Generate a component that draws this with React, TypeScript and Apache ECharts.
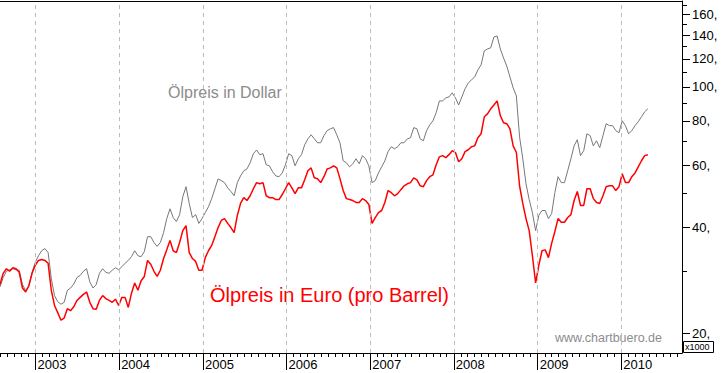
import React, { useEffect, useRef } from "react";
import * as echarts from "echarts";

// Oil prices sampled every 2 weeks starting 2002-07-30
const START_DATE = "2002-07-30";
const STEP_DAYS = 14;

const dollarPrices = [
  27.1, 28.8, 30.0, 30.3, 30.5, 30.3, 30.2, 27.5, 26.5, 27.3,
  29.8, 31.8, 33.2, 34.3, 34.8, 33.9, 28.6, 25.6, 24.6, 24.2,
  24.5, 26.5, 26.9, 27.6, 28.8, 29.2, 30.0, 30.5, 28.0, 26.9,
  27.5, 29.6, 30.5, 29.8, 29.6, 30.2, 30.7, 30.3, 30.9, 31.6,
  32.2, 33.0, 34.3, 33.2, 33.0, 34.1, 37.6, 37.6, 36.2, 35.3,
  36.2, 38.6, 42.3, 45.1, 42.6, 41.5, 43.4, 48.8, 52.1, 46.7,
  42.6, 43.4, 41.0, 42.3, 44.0, 45.7, 48.2, 51.4, 54.8, 54.2,
  53.5, 51.7, 50.5, 49.1, 53.5, 55.9, 57.8, 58.5, 60.9, 64.6,
  66.2, 64.2, 64.6, 60.1, 59.7, 57.4, 55.9, 55.6, 57.0, 60.1,
  64.6, 63.8, 59.7, 62.5, 64.2, 68.5, 71.2, 73.1, 71.2, 69.4,
  69.4, 72.7, 75.1, 76.0, 76.6, 73.1, 69.4, 61.7, 60.9, 59.3,
  60.5, 62.5, 60.5, 63.8, 62.5, 59.7, 53.5, 54.2, 57.0, 59.3,
  61.7, 65.5, 67.6, 66.7, 67.6, 69.4, 69.4, 71.2, 71.7, 76.6,
  76.0, 71.2, 70.3, 75.1, 78.0, 80.1, 84.4, 91.2, 91.2, 93.0,
  93.6, 96.1, 93.0, 88.8, 93.6, 98.7, 102.5, 104.6, 106.6, 111.6,
  115.3, 126.4, 128.0, 128.9, 138.4, 139.3, 128.0, 120.7, 114.5, 106.6,
  99.3, 94.2, 72.1, 62.5, 53.1, 47.9, 44.0, 39.1, 43.2, 44.6,
  44.6, 42.3, 43.7, 50.1, 55.6, 53.5, 53.5, 57.8, 62.5, 68.0,
  70.8, 63.8, 65.9, 73.6, 72.7, 68.0, 70.3, 67.2, 72.7, 78.6,
  77.6, 77.6, 75.1, 74.1, 80.1, 77.6, 73.6, 75.1, 77.6, 79.6,
  82.2, 84.9, 86.6,
];

const euroPrices = [
  27.5, 29.6, 30.5, 30.0, 30.7, 30.5, 29.8, 26.9, 26.2, 27.3,
  29.6, 31.2, 32.2, 32.4, 32.2, 31.6, 26.5, 24.0, 22.9, 21.8,
  22.1, 23.5, 23.2, 23.8, 24.8, 25.3, 25.8, 26.2, 24.5, 23.5,
  23.4, 24.8, 25.6, 25.1, 24.8, 24.5, 25.0, 24.0, 25.3, 25.3,
  23.7, 26.0, 27.8, 26.5, 28.2, 29.0, 32.2, 31.4, 30.0, 29.0,
  30.2, 32.6, 34.5, 36.7, 34.3, 33.9, 36.2, 39.1, 40.4, 33.9,
  32.6, 32.0, 30.2, 30.2, 32.8, 34.3, 35.5, 37.6, 39.9, 41.8,
  42.3, 41.0, 39.9, 38.6, 43.2, 46.7, 48.5, 47.6, 49.1, 51.4,
  53.5, 53.1, 53.5, 49.1, 48.5, 48.5, 47.9, 47.9, 49.5, 51.4,
  53.5, 51.7, 49.8, 51.7, 51.7, 54.5, 57.8, 58.9, 55.2, 54.9,
  53.5, 55.6, 58.5, 58.9, 59.7, 58.9, 54.9, 50.8, 48.2, 47.9,
  47.6, 47.0, 47.0, 48.2, 47.6, 46.4, 41.0, 42.6, 44.0, 44.6,
  47.0, 50.8, 50.1, 49.1, 49.8, 51.1, 52.4, 53.1, 53.5, 55.2,
  54.5, 52.4, 52.1, 54.2, 55.6, 56.3, 60.1, 63.3, 63.8, 63.0,
  64.2, 65.9, 65.1, 61.3, 62.5, 65.5, 66.3, 67.6, 68.0, 71.7,
  73.6, 82.2, 83.8, 86.6, 88.8, 91.2, 82.8, 79.1, 78.6, 76.0,
  68.0, 65.1, 52.4, 46.7, 42.3, 39.1, 33.2, 27.8, 31.2, 34.3,
  34.5, 32.8, 36.0, 38.9, 42.3, 41.3, 41.3, 42.6, 43.4, 47.6,
  50.5, 46.1, 46.1, 51.4, 51.4, 48.2, 47.0, 46.7, 49.1, 52.1,
  52.4, 52.4, 50.8, 52.1, 56.7, 53.5, 53.5, 55.6, 57.0, 59.3,
  61.7, 63.8, 64.2,
];

const yMajorTicks = [20, 40, 60, 80, 100, 120, 140, 160];
const yMinorTicks = [30, 50, 70, 90, 110, 130, 150, 170];
const yearLabels = [2003, 2004, 2005, 2006, 2007, 2008, 2009, 2010];

const AXIS_START = "2002-07-30";
const AXIS_END = "2010-09-23";
const Y_MIN = 17.6;
const Y_MAX = 175;

const FONT = "'Liberation Sans', Arial, sans-serif";

function ts(s: string): number {
  return new Date(s + "T00:00:00Z").getTime();
}

export default function App() {
  const ref = useRef<HTMLDivElement>(null);

  useEffect(() => {
    if (!ref.current) return;
    const chart = echarts.init(ref.current, undefined, { renderer: "svg" });

    const start = ts(START_DATE);
    const day = 24 * 3600 * 1000;
    const dates = dollarPrices.map((_, i) => start + i * STEP_DAYS * day);

    const xMin = ts(AXIS_START);
    const xMax = ts(AXIS_END);

    const monthTicks: number[] = [];
    for (let y = 2002; y <= 2010; y++) {
      for (let m = 0; m < 12; m++) {
        const t = Date.UTC(y, m, 1);
        if (t >= xMin && t <= xMax) monthTicks.push(t);
      }
    }
    const yearTicks = yearLabels.map((y) => Date.UTC(y, 0, 1));

    const baseX = {
      type: "value",
      min: xMin,
      max: xMax,
      scale: true,
      splitLine: { show: false },
    };

    const option: any = {
      animation: false,
      backgroundColor: "#ffffff",
      grid: {
        left: 0,
        right: 41,
        top: 1,
        bottom: 20,
        containLabel: false,
        outerBoundsMode: "none",
      },
      xAxis: [
        {
          ...baseX,
          position: "bottom",
          axisLine: { show: true, lineStyle: { color: "#000", width: 1 } },
          axisTick: {
            show: true,
            customValues: monthTicks,
            length: 4,
            lineStyle: { color: "#000", width: 1 },
          },
          axisLabel: { show: false },
        },
        {
          ...baseX,
          position: "bottom",
          axisLine: { show: false },
          axisTick: {
            show: true,
            customValues: yearTicks,
            length: 17,
            lineStyle: { color: "#000", width: 1 },
          },
          axisLabel: {
            show: true,
            customValues: yearTicks,
            formatter: (v: number) => String(new Date(v).getUTCFullYear()),
            align: "left",
            margin: 5,
            padding: [0, 0, 0, 2],
            color: "#000",
            fontSize: 13,
            fontFamily: FONT,
          },
        },
        {
          ...baseX,
          position: "top",
          axisLine: { show: true, lineStyle: { color: "#000", width: 1 } },
          axisTick: { show: false },
          axisLabel: { show: false },
        },
      ],
      yAxis: [
        {
          type: "log",
          logBase: 10,
          min: Y_MIN,
          max: Y_MAX,
          position: "right",
          axisLine: { show: true, lineStyle: { color: "#000", width: 1 } },
          axisTick: {
            show: true,
            customValues: yMajorTicks,
            length: 8,
            lineStyle: { color: "#000", width: 1 },
          },
          axisLabel: {
            show: true,
            customValues: yMajorTicks,
            formatter: (v: number) => `${Math.round(v)},`,
            margin: 10,
            color: "#000",
            fontSize: 13,
            fontFamily: FONT,
          },
          splitLine: { show: false },
        },
        {
          type: "log",
          logBase: 10,
          min: Y_MIN,
          max: Y_MAX,
          position: "right",
          axisLine: { show: false },
          axisTick: {
            show: true,
            customValues: yMinorTicks,
            length: 5,
            lineStyle: { color: "#000", width: 1 },
          },
          axisLabel: { show: false },
          splitLine: { show: false },
        },
      ],
      series: [
        {
          type: "line",
          name: "Ölpreis in Dollar",
          xAxisIndex: 0,
          yAxisIndex: 0,
          data: dates.map((d, i) => [d, dollarPrices[i]]),
          showSymbol: false,
          lineStyle: { color: "#777777", width: 1 },
          markLine: {
            silent: true,
            symbol: "none",
            label: { show: false },
            lineStyle: { color: "#bdbdbd", width: 1, type: [4, 4] },
            data: yearTicks.map((t) => ({ xAxis: t })),
          },
        },
        {
          type: "line",
          name: "Ölpreis in Euro",
          xAxisIndex: 0,
          yAxisIndex: 0,
          data: dates.map((d, i) => [d, euroPrices[i]]),
          showSymbol: false,
          lineStyle: { color: "#ff0000", width: 1.5 },
        },
      ],
      graphic: [
        {
          type: "text",
          left: 168,
          top: 84,
          style: {
            text: "Ölpreis in Dollar",
            fill: "#8c8c8c",
            font: `16px ${FONT}`,
          },
        },
        {
          type: "text",
          left: 210,
          top: 285,
          style: {
            text: "Ölpreis in Euro (pro Barrel)",
            fill: "#ff0000",
            font: `20px ${FONT}`,
          },
        },
        {
          type: "text",
          left: 555,
          top: 331,
          style: {
            text: "www.chartbuero.de",
            fill: "#8c8c8c",
            font: `12.5px ${FONT}`,
          },
        },
        {
          type: "rect",
          shape: { x: 683.5, y: 341.5, width: 30, height: 11 },
          style: { fill: "none", stroke: "#000", lineWidth: 1 },
        },
        {
          type: "text",
          x: 685,
          y: 347,
          style: {
            text: "x1000",
            fill: "#000",
            font: `9px ${FONT}`,
            verticalAlign: "middle",
          },
        },
      ],
    };

    chart.setOption(option);
    return () => chart.dispose();
  }, []);

  return (
    <div
      ref={ref}
      style={{ position: "absolute", left: 0, top: 0, width: 723, height: 373 }}
    />
  );
}
